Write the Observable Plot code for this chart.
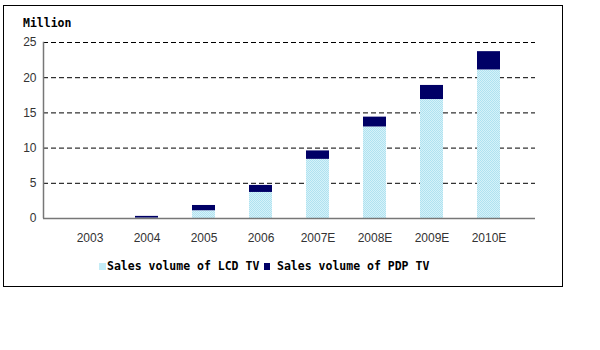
<!DOCTYPE html>
<html>
<head>
<meta charset="utf-8">
<script src="https://cdn.jsdelivr.net/npm/d3@7"></script>
<script src="https://cdn.jsdelivr.net/npm/@observablehq/plot@0.6"></script>
<style>
  body { margin: 0; background: #fff; }
  #wrap { position: relative; width: 600px; height: 350px; overflow: hidden; }
  #frame { position: absolute; left: 3px; top: 5px; width: 560px; height: 282px; box-sizing: border-box; border: 1px solid #000; }
  .lbl { position: absolute; font-family: "DejaVu Sans Mono", monospace; font-weight: bold; font-size: 11.5px; color: #000; white-space: pre; line-height: 1; }
  .sw { position: absolute; width: 7px; height: 7px; }
  #plot { position: absolute; left: 0; top: 0; }
</style>
</head>
<body>
<div id="wrap">
  <div id="frame"></div>
  <div id="plot"></div>
  <div class="lbl" style="left:23px; top:18px;">Million</div>
  <div class="sw" style="left:99px; top:263px; background:#c4ecf6;"></div>
  <div class="lbl" style="left:107px; top:261px;">Sales volume of LCD TV</div>
  <div class="sw" style="left:264px; top:263px; width:6px; background:#000066;"></div>
  <div class="lbl" style="left:277px; top:261px;">Sales volume of PDP TV</div>
</div>
<script>
const years = ["2003", "2004", "2005", "2006", "2007E", "2008E", "2009E", "2010E"];
const lcd = [0, 0.05, 1.1, 3.7, 8.4, 13.0, 16.9, 21.1];
const pdp = [0, 0.25, 0.75, 1.0, 1.2, 1.4, 2.0, 2.6];
const series = ["Sales volume of LCD TV", "Sales volume of PDP TV"];
const yTicks = [0, 5, 10, 15, 20, 25];
const gridTicks = [5, 10, 15, 20, 25];

const rows = [];
years.forEach((y, i) => {
  rows.push({year: y, series: series[0], value: lcd[i]});
  rows.push({year: y, series: series[1], value: pdp[i]});
});

const chart = Plot.plot({
  width: 600,
  height: 350,
  marginLeft: 43,
  marginRight: 65,
  marginTop: 42,
  marginBottom: 132,
  style: {fontFamily: "'Liberation Sans', Arial, sans-serif", fontSize: "12px", color: "#333", background: "transparent", overflow: "visible"},
  x: {domain: years, padding: 0.59, label: null, tickSize: 0, tickPadding: 15},
  y: {domain: [0, 25], ticks: yTicks, label: null, tickSize: 0, tickPadding: 7},
  color: {domain: series, range: ["url(#lcdpat)", "#000066"]},
  marks: [
    Plot.ruleY(gridTicks, {stroke: "#000", strokeWidth: 1, strokeDasharray: "5,3"}),
    Plot.barY(rows, {x: "year", y: "value", fill: "series", order: series}),
    Plot.ruleY([0], {stroke: "#777", strokeWidth: 1.5}),
    Plot.frame({anchor: "left", stroke: "#777", strokeWidth: 1.5, strokeDasharray: "1,1"})
  ]
});

const ns = "http://www.w3.org/2000/svg";
const defs = document.createElementNS(ns, "defs");
defs.innerHTML = `<pattern id="lcdpat" width="2" height="2" patternUnits="userSpaceOnUse">
  <rect width="2" height="2" fill="#d6f2f9"/>
  <rect width="1" height="1" fill="#b0e2f0"/>
  <rect x="1" y="1" width="1" height="1" fill="#b0e2f0"/>
</pattern>`;
chart.insertBefore(defs, chart.firstChild);
document.getElementById("plot").appendChild(chart);
</script>
</body>
</html>
